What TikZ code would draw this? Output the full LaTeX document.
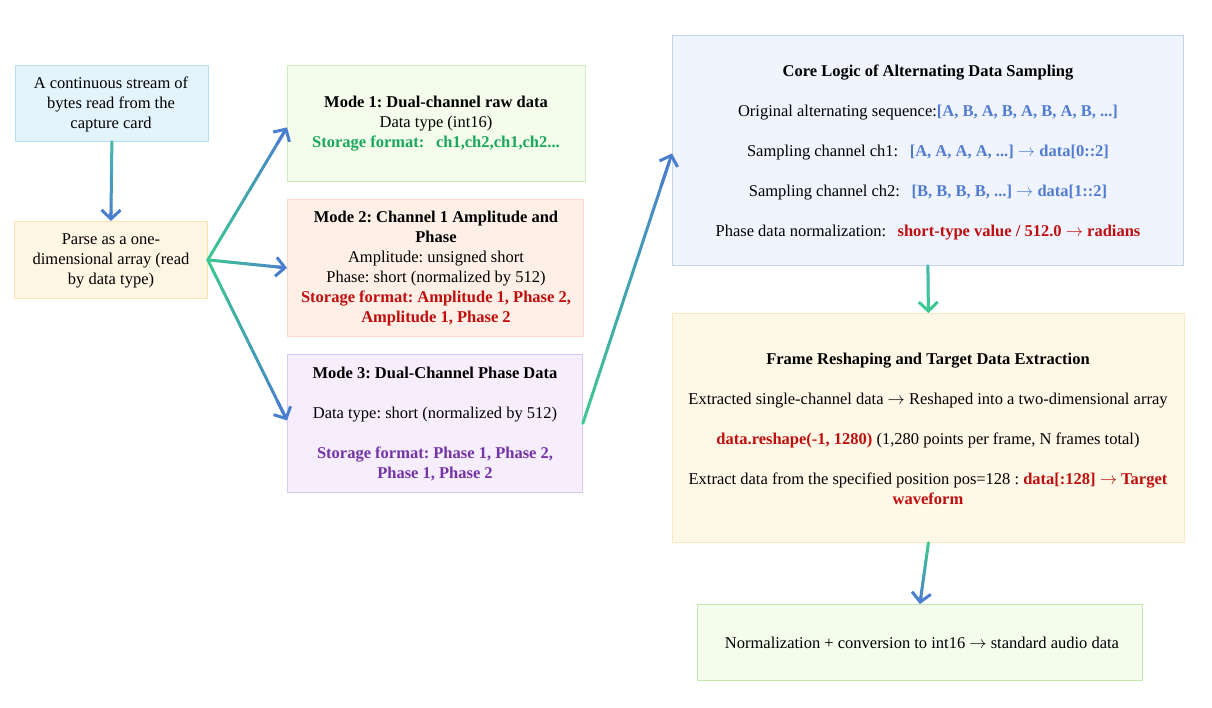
\documentclass[tikz,border=0pt]{standalone}
\usepackage{fontspec}
\setmainfont{Liberation Serif}
\usetikzlibrary{calc,arrows.meta}
\frenchspacing
\definecolor{gA}{HTML}{3DC991}
\definecolor{bA}{HTML}{4A7ECF}
\definecolor{tA}{HTML}{47B9B0}
\definecolor{txgreen}{HTML}{1AA85C}
\definecolor{txred}{HTML}{C00E0E}
\definecolor{txpurple}{HTML}{7434A6}
\definecolor{txblue}{HTML}{527CD2}
\newcommand{\fc}{:\hspace{0.7em}}
\newcommand{\ra}{$\rightarrow$}
\newcommand{\gradarrow}[4]{%
  \foreach \k in {0,...,19}{%
    \pgfmathsetmacro{\ta}{\k*0.0485}%
    \pgfmathsetmacro{\tb}{(\k+1)*0.0485}%
    \pgfmathtruncatemacro{\pc}{100-\k*5}%
    \draw[line width=3pt,line cap=round,color=#3!\pc!#4] ($(#1)!\ta!(#2)$) -- ($(#1)!\tb!(#2)$);
  }%
  \draw[line width=3pt,color=#4,-{Straight Barb[length=9pt,width=19pt,line width=3pt]}] ($(#1)!0.88!(#2)$) -- (#2);
}
\tikzset{
  box/.style={draw,line width=0.8pt,inner sep=0pt,anchor=north west},
  txt/.style={align=center,inner sep=0pt,font=\fontsize{16.5}{20}\selectfont},
}
\begin{document}
\begin{tikzpicture}[x=1pt,y=-1pt]
\useasboundingbox (0,0) rectangle (1212,707);
% boxes
\node[box,fill={rgb,255:red,227;green,244;blue,253},draw={rgb,255:red,181;green,221;blue,247},minimum width=193pt,minimum height=76pt] (src) at (15,65) {};
\node[box,fill={rgb,255:red,255;green,245;blue,227},draw={rgb,255:red,251;green,227;blue,178},minimum width=193pt,minimum height=77pt] (parse) at (14,221) {};
\node[box,fill={rgb,255:red,244;green,252;blue,236},draw={rgb,255:red,205;green,237;blue,189},minimum width=298pt,minimum height=116pt] (m1) at (287,65) {};
\node[box,fill={rgb,255:red,254;green,240;blue,231},draw={rgb,255:red,247;green,214;blue,204},minimum width=296pt,minimum height=137pt] (m2) at (287,199) {};
\node[box,fill={rgb,255:red,246;green,238;blue,253},draw={rgb,255:red,217;green,200;blue,243},minimum width=295pt,minimum height=138pt] (m3) at (287,354) {};
\node[box,fill={rgb,255:red,239;green,244;blue,254},draw={rgb,255:red,196;green,210;blue,244},minimum width=511pt,minimum height=230pt] (core) at (672,35) {};
\node[box,fill={rgb,255:red,254;green,248;blue,230},draw={rgb,255:red,251;green,232;blue,192},minimum width=512pt,minimum height=229pt] (frame) at (672,313) {};
\node[box,fill={rgb,255:red,244;green,252;blue,236},draw={rgb,255:red,195;green,234;blue,174},minimum width=445pt,minimum height=76pt] (final) at (697,604) {};
% texts
\node[txt] (srct) at (111,104) {A continuous stream of\\bytes read from the\\capture card};
\node[txt] (parset) at (111,261) {Parse as a one-\\dimensional array (read\\by data type)};
\node[txt] (m1t) at (436,124) {\textbf{Mode 1: Dual-channel raw data}\\Data type (int16)\\\textcolor{txgreen}{\textbf{Storage format\fc ch1,ch2,ch1,ch2...}}};
\node[txt] (m2t) at (436,269) {\textbf{Mode 2: Channel 1 Amplitude and}\\\textbf{Phase}\\Amplitude: unsigned short\\Phase: short (normalized by 512)\\\textcolor{txred}{\textbf{Storage format: Amplitude 1, Phase 2,}}\\\textcolor{txred}{\textbf{Amplitude 1, Phase 2}}};
\node[txt] (m3t) at (435,424) {\textbf{Mode 3: Dual-Channel Phase Data}\\[20pt]Data type: short (normalized by 512)\\[20pt]\textcolor{txpurple}{\textbf{Storage format: Phase 1, Phase 2,}}\\\textcolor{txpurple}{\textbf{Phase 1, Phase 2}}};
\node[txt] (coret) at (928,152) {\textbf{Core Logic of Alternating Data Sampling}\\[20pt]Original alternating sequence:\textcolor{txblue}{\textbf{[A, B, A, B, A, B, A, B, ...]}}\\[20pt]Sampling channel ch1\fc \textcolor{txblue}{\textbf{[A, A, A, A, ...] \ra{} data[0::2]}}\\[20pt]Sampling channel ch2\fc \textcolor{txblue}{\textbf{[B, B, B, B, ...] \ra{} data[1::2]}}\\[20pt]Phase data normalization\fc \textcolor{txred}{\textbf{short-type value / 512.0 \ra{} radians}}};
\node[txt] (framet) at (928,429) {\textbf{Frame Reshaping and Target Data Extraction}\\[20pt]Extracted single-channel data \ra{} Reshaped into a two-dimensional array\\[20pt]\textcolor{txred}{\textbf{data.reshape(-1, 1280)}} (1,280 points per frame, N frames total)\\[20pt]Extract data from the specified position pos=128 : \textcolor{txred}{\textbf{data[:128] \ra{} Target}}\\\textcolor{txred}{\textbf{waveform}}};
\node[txt] (finalt) at (922,643) {Normalization + conversion to int16 \ra{} standard audio data};
% arrows
\gradarrow{src.south}{parse.north}{tA}{bA}
\gradarrow{parse.east}{$(m1.west)+(0,4)$}{gA}{bA}
\gradarrow{parse.east}{m2.west}{gA}{bA}
\gradarrow{parse.east}{$(m3.west)+(0,-3)$}{gA}{bA}
\gradarrow{m3.east}{$(core.west)+(0,3)$}{gA}{bA}
\gradarrow{core.south}{frame.north}{tA}{gA}
\gradarrow{frame.south}{final.north}{gA}{bA}
\end{tikzpicture}
\end{document}
